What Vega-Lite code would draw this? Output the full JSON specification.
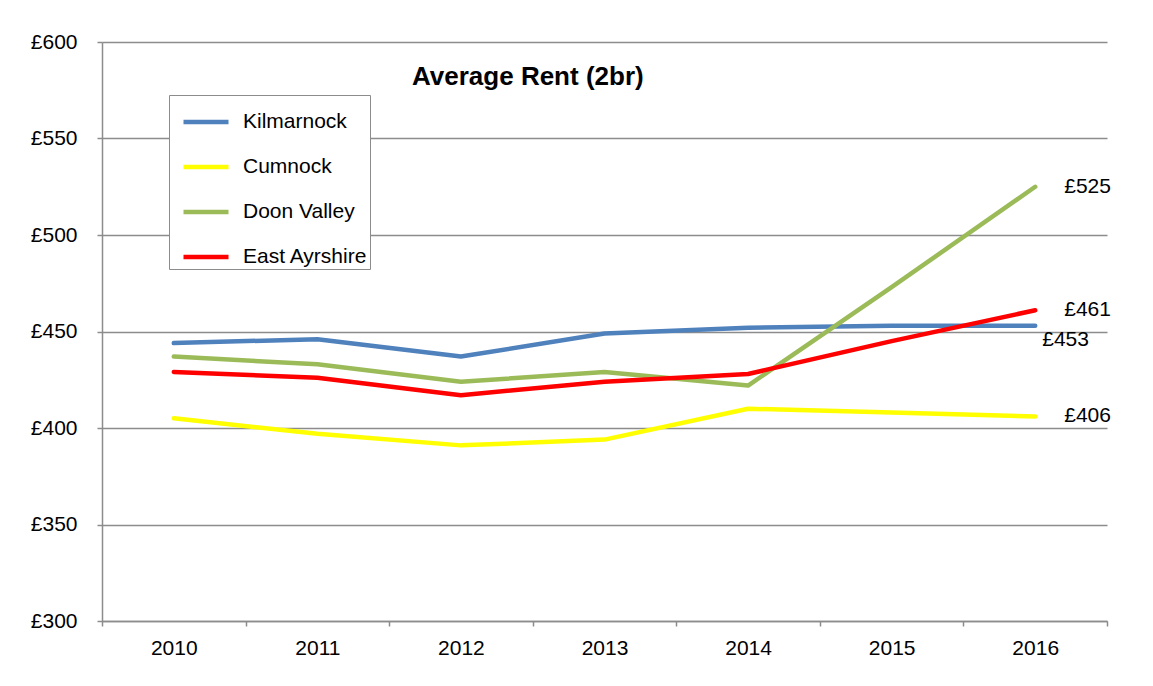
{
  "$schema": "https://vega.github.io/schema/vega-lite/v6.json",
  "width": 1005,
  "height": 579,
  "autosize": "none",
  "padding": {"left": 102, "top": 42, "right": 46, "bottom": 65},
  "background": "white",
  "title": {
    "text": "Average Rent (2br)",
    "anchor": "start",
    "frame": "group",
    "dx": 310,
    "dy": 80,
    "offset": 0,
    "baseline": "alphabetic",
    "font": "Liberation Sans",
    "fontSize": 26,
    "fontWeight": "bold",
    "color": "black"
  },
  "data": {
    "values": [
      {"series": "Kilmarnock", "year": 2010, "rent": 444},
      {"series": "Kilmarnock", "year": 2011, "rent": 446},
      {"series": "Kilmarnock", "year": 2012, "rent": 437},
      {"series": "Kilmarnock", "year": 2013, "rent": 449},
      {"series": "Kilmarnock", "year": 2014, "rent": 452},
      {"series": "Kilmarnock", "year": 2015, "rent": 453},
      {"series": "Kilmarnock", "year": 2016, "rent": 453},
      {"series": "Cumnock", "year": 2010, "rent": 405},
      {"series": "Cumnock", "year": 2011, "rent": 397},
      {"series": "Cumnock", "year": 2012, "rent": 391},
      {"series": "Cumnock", "year": 2013, "rent": 394},
      {"series": "Cumnock", "year": 2014, "rent": 410},
      {"series": "Cumnock", "year": 2015, "rent": 408},
      {"series": "Cumnock", "year": 2016, "rent": 406},
      {"series": "Doon Valley", "year": 2010, "rent": 437},
      {"series": "Doon Valley", "year": 2011, "rent": 433},
      {"series": "Doon Valley", "year": 2012, "rent": 424},
      {"series": "Doon Valley", "year": 2013, "rent": 429},
      {"series": "Doon Valley", "year": 2014, "rent": 422},
      {"series": "Doon Valley", "year": 2015, "rent": 473},
      {"series": "Doon Valley", "year": 2016, "rent": 525},
      {"series": "East Ayrshire", "year": 2010, "rent": 429},
      {"series": "East Ayrshire", "year": 2011, "rent": 426},
      {"series": "East Ayrshire", "year": 2012, "rent": 417},
      {"series": "East Ayrshire", "year": 2013, "rent": 424},
      {"series": "East Ayrshire", "year": 2014, "rent": 428},
      {"series": "East Ayrshire", "year": 2015, "rent": 445},
      {"series": "East Ayrshire", "year": 2016, "rent": 461}
    ]
  },
  "encoding": {
    "x": {
      "field": "year",
      "type": "ordinal",
      "scale": {"paddingInner": 0, "paddingOuter": 0},
      "axis": {
        "title": null,
        "labelAngle": 0,
        "grid": false,
        "tickBand": "extent",
        "tickSize": 5,
        "labelPadding": 11,
        "labelFontSize": 21,
        "labelFont": "Liberation Sans",
        "labelColor": "black",
        "domainColor": "#8c8c8c",
        "domainWidth": 1.5,
        "tickColor": "#8c8c8c",
        "tickWidth": 1.5
      }
    },
    "y": {
      "field": "rent",
      "type": "quantitative",
      "scale": {"domain": [300, 600], "nice": false, "zero": false},
      "axis": {
        "title": null,
        "values": [300, 350, 400, 450, 500, 550, 600],
        "format": "$d",
        "grid": true,
        "gridColor": "#8c8c8c",
        "gridWidth": 1.5,
        "tickSize": 5,
        "labelPadding": 20,
        "labelFontSize": 21,
        "labelFont": "Liberation Sans",
        "labelColor": "black",
        "domainColor": "#8c8c8c",
        "domainWidth": 1.5,
        "tickColor": "#8c8c8c",
        "tickWidth": 1.5
      }
    }
  },
  "layer": [
    {
      "mark": {"type": "line", "strokeWidth": 4.5, "strokeCap": "round", "strokeJoin": "round"},
      "encoding": {
        "color": {
          "field": "series",
          "type": "nominal",
          "sort": ["Kilmarnock", "Cumnock", "Doon Valley", "East Ayrshire"],
          "scale": {
            "domain": ["Kilmarnock", "Cumnock", "Doon Valley", "East Ayrshire"],
            "range": ["#4f81bd", "#ffff00", "#9bbb59", "#ff0000"]
          },
          "legend": {
            "title": null,
            "orient": "none",
            "legendX": 67,
            "legendY": 53,
            "padding": 2,
            "strokeColor": "#8c8c8c",
            "fillColor": "white",
            "symbolType": "stroke",
            "symbolSize": 2025,
            "symbolStrokeWidth": 4.5,
            "symbolOffset": 10,
            "labelOffset": 12,
            "labelFontSize": 21,
            "labelFont": "Liberation Sans",
            "labelColor": "black",
            "rowPadding": 10
          }
        }
      }
    },
    {
      "transform": [{"filter": "datum.year == 2016 && datum.series != 'Kilmarnock'"}],
      "mark": {"type": "text", "align": "left", "baseline": "middle", "dx": 29, "fontSize": 21, "font": "Liberation Sans", "color": "black"},
      "encoding": {"text": {"field": "rent", "type": "quantitative", "format": "$d"}}
    },
    {
      "transform": [{"filter": "datum.year == 2016 && datum.series == 'Kilmarnock'"}],
      "mark": {"type": "text", "align": "left", "baseline": "middle", "dx": 7, "dy": 14, "fontSize": 21, "font": "Liberation Sans", "color": "black"},
      "encoding": {"text": {"field": "rent", "type": "quantitative", "format": "$d"}}
    }
  ],
  "config": {
    "locale": {
      "number": {"decimal": ".", "thousands": ",", "grouping": [3], "currency": ["£", ""]}
    },
    "view": {"stroke": null}
  }
}
